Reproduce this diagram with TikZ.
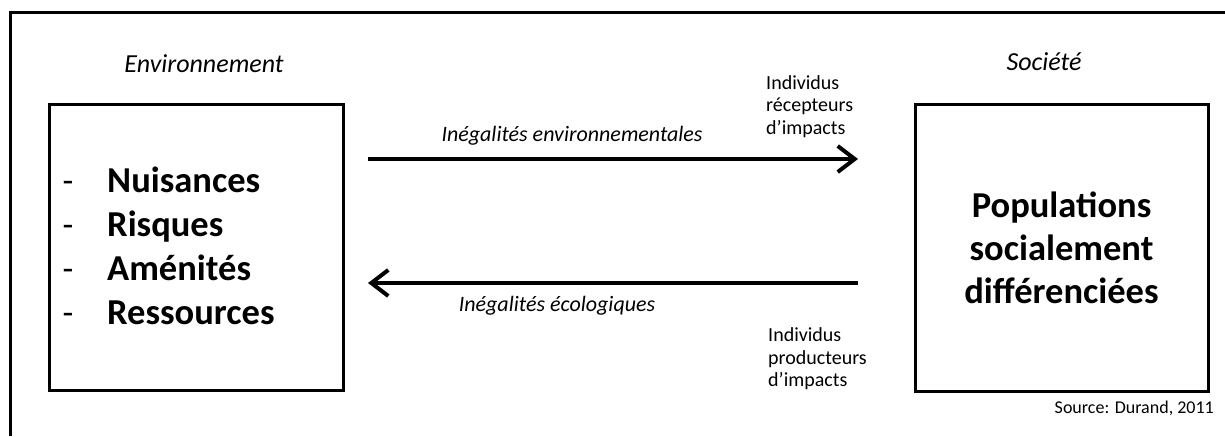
\documentclass[tikz,border=0pt]{standalone}
\usepackage{fontspec}
\setmainfont{Carlito}
\usepackage{tikz}
\usetikzlibrary{arrows.meta}

\tikzset{
  boite/.style={draw, line width=3pt, inner sep=0pt},
  flow/.style={line width=4pt, -{Straight Barb[length=17pt,width=26pt]}},
  titre/.style={inner sep=0pt, font=\fontsize{26}{30}\selectfont\itshape},
  legende/.style={inner sep=0pt, font=\fontsize{22}{26}\selectfont\itshape},
  grand/.style={inner sep=0pt, font=\fontsize{36.5}{43}\selectfont\bfseries},
  petit/.style={inner sep=0pt, align=left, font=\fontsize{20}{22.5}\selectfont},
}

\begin{document}
\begin{tikzpicture}[x=1pt,y=1pt,yscale=-1,xscale=1]
        \useasboundingbox (0,0) rectangle (1225,436);

        %Shape: Frame (only top and left edges show)
        \draw [line width=3pt] (10.5,436) -- (10.5,13) -- (1225,13) ;

        %Shape: Rectangle
        \node [boite, minimum width=294pt, minimum height=286pt] (env) at (196,247) {};
        %Shape: Rectangle
        \node [boite, minimum width=293pt, minimum height=287pt, align=center, grand] (soc) at (1061.5,247.5)
              {Populations\\socialement\\différenciées};

        % Text Node
        \node [titre] (envtitre) at (204,64) {Environnement};
        % Text Node
        \node [titre] (soctitre) at (1044,62) {Société};

        % list in the left box
        \foreach \i/\y/\mot in {1/192.5/Nuisances, 2/236.5/Risques, 3/280.5/Aménités, 4/324.5/Ressources} {
          \node [anchor=base, inner sep=0pt, font=\fontsize{35}{43}\selectfont] (tiret\i) at (68,\y) {-};
          \node [anchor=base west, grand] (item\i) at (107,\y) {\mot};
        }

        % arrow ends
        \coordinate (envhaut) at (368,159);
        \coordinate (sochaut) at (858,159);
        \coordinate (socbas) at (858,283);
        \coordinate (envbas) at (368,283);

        %Straight Lines
        \draw [flow] (envhaut) -- (sochaut) ;
        %Straight Lines
        \draw [flow] (socbas) -- (envbas) ;

        % Text Node
        \node [anchor=base, legende] (ineg1) at (572,141.5) {Inégalités environnementales};
        % Text Node
        \node [anchor=base, legende] (ineg2) at (557,311) {Inégalités écologiques};

        % Text Node
        \node [anchor=base west, petit] (recept) at (766,89) {Individus};
        \node [anchor=base west, petit] (recept2) at (766,111.5) {récepteurs};
        \node [anchor=base west, petit] (recept3) at (766,134) {d’impacts};
        % Text Node
        \node [anchor=base west, petit] (prod) at (768,341.5) {Individus};
        \node [anchor=base west, petit] (prod2) at (768,364) {producteurs};
        \node [anchor=base west, petit] (prod3) at (768,386.5) {d’impacts};

        % Text Node
        \node [anchor=base east, inner sep=0pt, font=\fontsize{18}{21}\selectfont] (source) at (1214,413) {Source: Durand, 2011};

\end{tikzpicture}
\end{document}
